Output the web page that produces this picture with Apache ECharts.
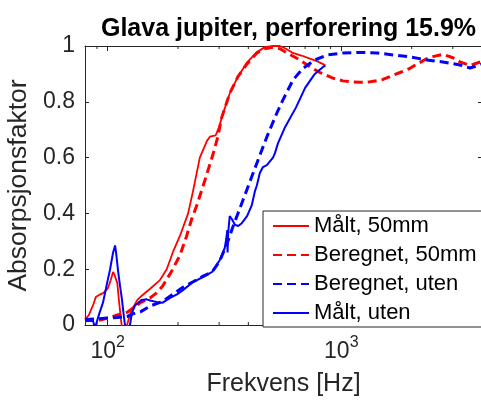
<!DOCTYPE html>
<html><head><meta charset="utf-8">
<script src="https://cdn.jsdelivr.net/npm/echarts@6/dist/echarts.min.js"></script>
<style>html,body{margin:0;padding:0;overflow:hidden;background:#fff;width:481px;height:400px}#c{width:490px;height:400px}</style>
</head><body><div id="c"></div><script>
const titleText = 'Glava jupiter, perforering 15.9%';
const xName = 'Frekvens [Hz]';
const yName = 'Absorpsjonsfaktor';
const seriesNames = ['Målt, 50mm', 'Beregnet, 50mm', 'Beregnet, uten', 'Målt, uten'];
const xMin = 80, xMax = 4000;
const yMin = 0, yMax = 1, yStep = 0.2;
const xMinorTicks = [90, 200, 300, 400, 500, 600, 700, 800, 900, 2000, 3000];

const freqMaalt50 = [80,83,86.5,89,93,96,100,103,105.5,107,110,112,114,116,119,121,124,128,134,140,152,167,179,190,204,221,232,248,266,274,290,300,308,333,361,394,435,471,510,546,580,620,680,734,790,835,855];
const valMaalt50 = [0.02,0.035,0.07,0.10,0.11,0.115,0.13,0.16,0.19,0.18,0.15,0.08,0.02,-0.03,-0.03,0.0,0.03,0.06,0.09,0.105,0.13,0.16,0.20,0.26,0.32,0.40,0.48,0.60,0.66,0.675,0.68,0.71,0.745,0.83,0.89,0.94,0.978,0.996,1.0,1.0,0.99,0.975,0.965,0.955,0.945,0.935,0.93];

const freqBer50 = [80,93,105,110,116,121,128,138,152,162,172,187,204,218,229,241,261,282,296,308,333,361,394,435,471,510,546,600,665,735,810,920,1016,1089,1202,1288,1421,1507,1664,1783,1967,2107,2325,2466,2723,3004,3219,3552,3843,4000];
const valBer50 = [0.015,0.018,0.03,0.036,0.04,0.045,0.06,0.08,0.097,0.115,0.14,0.19,0.25,0.32,0.38,0.43,0.52,0.61,0.674,0.745,0.83,0.89,0.935,0.975,0.99,0.995,0.99,0.97,0.95,0.925,0.905,0.885,0.875,0.872,0.87,0.87,0.876,0.88,0.895,0.905,0.92,0.935,0.955,0.962,0.97,0.958,0.943,0.93,0.94,0.945];

const freqBerUten = [80,90,100,110,121,128,138,152,172,190,210,232,256,280,302,324,343,365,394,435,480,530,562,621,685,771,868,1016,1202,1421,1664,1967,2325,2723,3219,3552,3920,4000];
const valBerUten = [0.02,0.022,0.025,0.027,0.03,0.04,0.047,0.068,0.085,0.11,0.135,0.155,0.175,0.19,0.23,0.29,0.35,0.41,0.484,0.58,0.674,0.76,0.806,0.878,0.92,0.95,0.968,0.975,0.977,0.975,0.968,0.961,0.95,0.943,0.932,0.921,0.932,0.935];

const freqMaaltUten = [80,84,86.5,88.3,92,95.5,100,102.3,105.5,107.6,109,110.7,113,115.2,117,118.6,120,123,124.6,127,131,140,147,152,163,172,185,198,210,232,256,280,302,317,322,325,326,328,333,340,350,362,375,395,414,427,435,448,462,480,510,520,535,575,640,700,770,835,855];
const valMaaltUten = [0.015,0.015,0.015,-0.01,0.04,0.08,0.16,0.197,0.26,0.285,0.25,0.197,0.14,0.09,0.04,0.0,-0.03,-0.03,0.0,0.043,0.07,0.09,0.092,0.088,0.082,0.08,0.097,0.11,0.125,0.154,0.172,0.19,0.233,0.276,0.31,0.34,0.26,0.33,0.39,0.38,0.36,0.355,0.365,0.39,0.43,0.48,0.50,0.545,0.566,0.573,0.60,0.616,0.65,0.71,0.78,0.85,0.90,0.925,0.93];

const zip = (f, v) => f.map((x, i) => [x, v[i]]);
const FONT = "'Liberation Sans', Arial, Helvetica, sans-serif";
const AX = '#262626';

const chart = echarts.init(document.getElementById('c'), null, {renderer: 'canvas'});

function supLabel(v) {
  const e = Math.round(Math.log10(v) * 1000) / 1000;
  if (Math.abs(e - Math.round(e)) > 1e-6) return '';
  return '{b|10}{s|' + Math.round(e) + '}';
}

const xAxisBase = {
  type: 'log', logBase: 10, min: xMin, max: xMax,
  axisLine: {show: true, onZero: false, lineStyle: {color: AX, width: 1}},
  axisTick: {show: true, inside: true, length: 5, lineStyle: {color: AX}},
  splitLine: {show: false}, minorTick: {show: false}
};
const yAxisBase = {
  type: 'value', min: yMin, max: yMax, interval: yStep,
  axisLine: {show: true, lineStyle: {color: AX, width: 1}},
  axisTick: {show: true, inside: true, length: 4, lineStyle: {color: AX}},
  splitLine: {show: false}
};

const lineSeries = (name, data, color, dashed, width) => ({
  name, type: 'line', data, symbol: 'none', showSymbol: false, smooth: false,
  clip: true, xAxisIndex: 0, yAxisIndex: 0,
  lineStyle: {color, width, type: dashed ? [9, 5] : 'solid'},
  itemStyle: {color}, emphasis: {disabled: true}
});

chart.setOption({
  animation: false,
  backgroundColor: '#fff',
  title: {
    text: titleText, left: 283.5, top: 12, textAlign: 'center',
    textStyle: {fontFamily: FONT, fontSize: 25, fontWeight: 'bold', color: '#000'}
  },
  grid: {left: 85, top: 46, right: 8, bottom: 75, containLabel: false, outerBoundsMode: 'none'},
  legend: {
    data: seriesNames, orient: 'vertical', left: 263, top: 211,
    itemWidth: 36, itemHeight: 14, itemGap: 7,
    padding: [4, 40, 3, 9],
    itemStyle: {opacity: 0},
    backgroundColor: '#fff', borderColor: AX, borderWidth: 1, borderRadius: 0,
    textStyle: {fontFamily: FONT, fontSize: 22, color: '#000', lineHeight: 22},
    selectedMode: false
  },
  xAxis: [
    Object.assign({}, xAxisBase, {
      position: 'bottom',
      name: xName, nameLocation: 'middle', nameGap: 47,
      nameTextStyle: {fontFamily: FONT, fontSize: 25, color: AX},
      axisLabel: {
        show: true, margin: 10, showMinLabel: false, showMaxLabel: false,
        formatter: supLabel,
        rich: {
          b: {fontFamily: FONT, fontSize: 23, color: AX, verticalAlign: 'bottom'},
          s: {fontFamily: FONT, fontSize: 16, color: AX, verticalAlign: 'bottom', padding: [0, 0, 12, 0]}
        }
      }
    }),
    Object.assign({}, xAxisBase, {position: 'top', axisLabel: {show: false}})
  ],
  yAxis: [
    Object.assign({}, yAxisBase, {
      position: 'left',
      name: yName, nameLocation: 'middle', nameGap: 47, nameRotate: 90,
      nameTextStyle: {fontFamily: FONT, fontSize: 26.5, color: AX},
      axisLabel: {show: true, margin: 10, fontFamily: FONT, fontSize: 23, color: AX}
    }),
    Object.assign({}, yAxisBase, {position: 'right', axisLabel: {show: false}})
  ],
  series: [
    lineSeries(seriesNames[0], zip(freqMaalt50, valMaalt50), '#ff0000', false, 1.8),
    lineSeries(seriesNames[1], zip(freqBer50, valBer50), '#ff0000', true, 3),
    lineSeries(seriesNames[2], zip(freqBerUten, valBerUten), '#0000ff', true, 3),
    lineSeries(seriesNames[3], zip(freqMaaltUten, valMaaltUten), '#0000ff', false, 2),
    {
      type: 'custom', silent: true, clip: false, xAxisIndex: 0, yAxisIndex: 0,
      data: xMinorTicks.map(v => [v, yMin]), encode: {x: 0, y: 1},
      renderItem: (params, api) => {
        const v = api.value(0);
        const b = api.coord([v, yMin]);
        const t = api.coord([v, yMax]);
        return {type: 'group', children: [
          {type: 'line', shape: {x1: b[0], y1: b[1], x2: b[0], y2: b[1] - 3}, style: {stroke: AX, lineWidth: 1}},
          {type: 'line', shape: {x1: t[0], y1: t[1], x2: t[0], y2: t[1] + 3}, style: {stroke: AX, lineWidth: 1}}
        ]};
      }
    }
  ]
});
</script></body></html>
